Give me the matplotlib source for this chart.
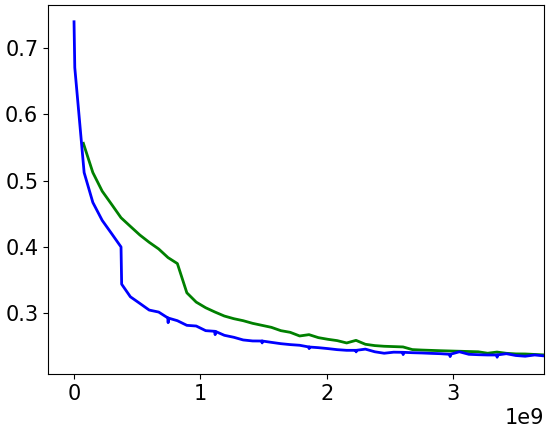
import matplotlib
matplotlib.use("Agg")
import matplotlib.pyplot as plt

# evaluation curves, x in units of 1e9
green_x = [0.074, 0.149, 0.223, 0.298, 0.372, 0.446, 0.521, 0.595, 0.670, 0.744,
           0.818, 0.893, 0.967, 1.042, 1.116, 1.190, 1.265, 1.339, 1.414, 1.488,
           1.562, 1.637, 1.711, 1.786, 1.860, 1.934, 2.009, 2.083, 2.158, 2.232,
           2.306, 2.381, 2.455, 2.530, 2.604, 2.678, 2.753, 2.827, 2.902, 2.976,
           3.050, 3.125, 3.199, 3.274, 3.348, 3.422, 3.497, 3.571, 3.646, 3.720]
green_y = [0.556, 0.512, 0.484, 0.464, 0.444, 0.431, 0.418, 0.407, 0.397, 0.384,
           0.375, 0.331, 0.317, 0.3085, 0.302, 0.296, 0.292, 0.289, 0.285, 0.282,
           0.279, 0.274, 0.2715, 0.266, 0.268, 0.2635, 0.261, 0.259, 0.2555, 0.2594,
           0.2535, 0.2515, 0.2505, 0.250, 0.2495, 0.2455, 0.2448, 0.2443, 0.2438, 0.2434,
           0.243, 0.2426, 0.2422, 0.240, 0.2418, 0.2399, 0.239, 0.2389, 0.2382, 0.2375]

blue_x = [0.0, 0.006, 0.080, 0.149, 0.223, 0.298, 0.372, 0.377, 0.446, 0.521,
          0.595, 0.670, 0.744, 0.745, 0.746, 0.818, 0.893, 0.967, 1.042, 1.116,
          1.117, 1.118, 1.190, 1.265, 1.339, 1.414, 1.488, 1.489, 1.490, 1.562,
          1.637, 1.711, 1.786, 1.860, 1.861, 1.862, 1.934, 2.009, 2.083, 2.158,
          2.232, 2.233, 2.234, 2.306, 2.381, 2.455, 2.530, 2.604, 2.605, 2.606,
          2.678, 2.753, 2.827, 2.902, 2.976, 2.977, 2.978, 3.050, 3.125, 3.199,
          3.274, 3.348, 3.349, 3.350, 3.422, 3.497, 3.571, 3.646, 3.720]
blue_y = [0.739, 0.670, 0.512, 0.467, 0.440, 0.420, 0.400, 0.344, 0.325, 0.315,
          0.305, 0.302, 0.293, 0.286, 0.293, 0.289, 0.282, 0.281, 0.274, 0.273,
          0.268, 0.273, 0.267, 0.264, 0.260, 0.2585, 0.2584, 0.2555, 0.2584, 0.2564,
          0.2544, 0.253, 0.252, 0.2494, 0.247, 0.2494, 0.2484, 0.247, 0.2454, 0.2444,
          0.2444, 0.242, 0.2444, 0.2462, 0.2422, 0.240, 0.2416, 0.2414, 0.238, 0.2414,
          0.2408, 0.2404, 0.2398, 0.2393, 0.2384, 0.235, 0.2384, 0.2422, 0.2384, 0.2378,
          0.2374, 0.2374, 0.234, 0.2374, 0.2393, 0.2366, 0.2355, 0.2374, 0.236]

plt.rcParams["font.size"] = 15

fig = plt.figure(figsize=(5.48, 4.33), dpi=100)
ax = fig.add_axes([48 / 548, 59 / 433, 496 / 548, 369 / 433])

ax.plot([v * 1e9 for v in green_x], green_y, color="green", lw=2)
ax.plot([v * 1e9 for v in blue_x], blue_y, color="blue", lw=2)

ax.set_xlim(-0.206e9, 3.72e9)
ax.set_yticks([0.3, 0.4, 0.5, 0.6, 0.7])
ax.set_xticks([0, 1e9, 2e9, 3e9])

fig.savefig("out.png", dpi=100)
